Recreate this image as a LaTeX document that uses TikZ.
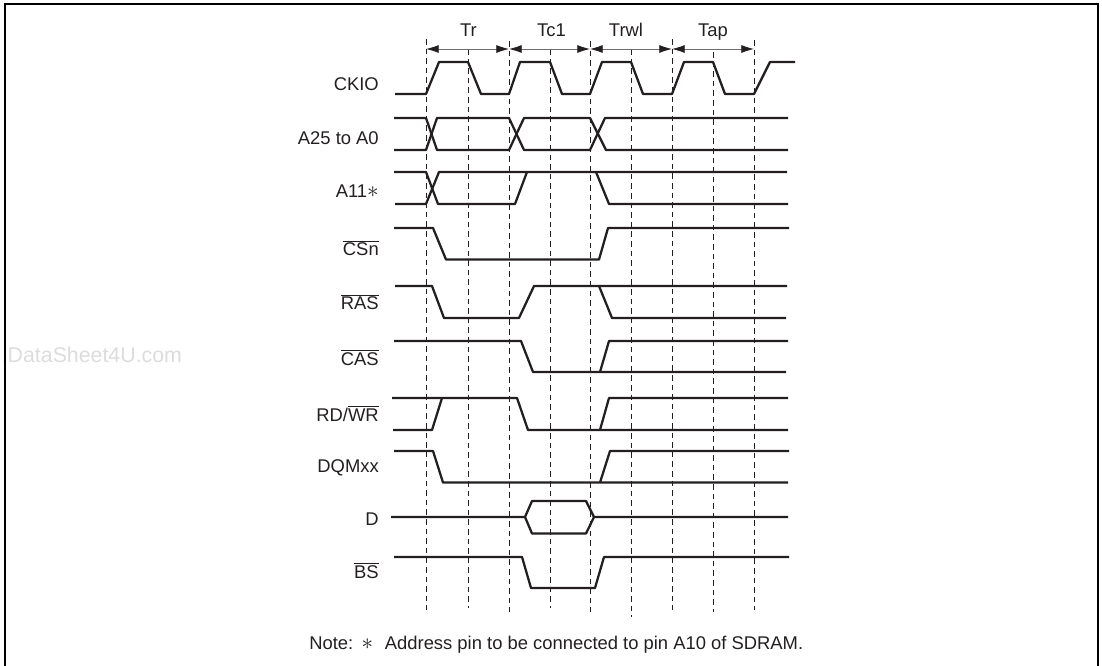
\documentclass[tikz,border=0pt]{standalone}
\usepackage{fontspec}
\setmainfont{Liberation Sans}
\usepackage{xcolor}
\usetikzlibrary{positioning, arrows.meta, calc}
\definecolor{cink}{HTML}{231F20}
\definecolor{cmark}{HTML}{DCDCDC}
\newcommand{\ovl}[1]{$\overline{\hbox{#1}}$}
\newcommand{\strk}{{\fontsize{18}{18}\selectfont$*$}}
\tikzset{
  frm/.style={draw=black, line width=1.8pt},
  sig/.style={draw=cink, line width=1.7pt, line join=round},
  grd/.style={draw=cink, line width=0.65pt, dash pattern=on 4.2pt off 3pt},
  lbl/.style={anchor=base east, text=cink, font=\fontsize{13.8}{16}\selectfont, inner sep=0pt},
  tlb/.style={anchor=base, text=cink, font=\fontsize{13.8}{16}\selectfont, inner sep=0pt},
  per/.style={{Latex[length=9.5pt,width=6pt,color=cink]}-{Latex[length=9.5pt,width=6pt,color=cink]}, draw=cink!65, line width=0.6pt},
}
\begin{document}
\begin{tikzpicture}[x=0.75pt, y=-0.75pt]
  \useasboundingbox (0,0) rectangle (1102,666);
  \node[font=\fontsize{16}{18}\selectfont, text=cmark, anchor=base west, inner sep=0pt] (mark) at (1.5,363) {.DataSheet4U.com};
  \draw[frm] (5.2,666) -- (5.2,4) -- (1098,4) -- (1098,666);
  % ---------- grid ----------
  \foreach \nm/\xx/\ya/\yb in {a/426/39/610, b/468/49/608, c/509/41/612, d/550/49/608, e/590/41/612,
                               f/631/49/617, g/672/39/610, h/713/52/612, i/754/40/610} {
    \coordinate (\nm0) at (\xx,\ya);
    \coordinate (\nm1) at (\xx,\yb);
    \coordinate (\nm2) at (\xx,49);
    \draw[grd] (\nm0) -- (\nm1);
  }
  % ---------- periods ----------
  \draw[per] (a2) -- (c2);
  \draw[per] (c2) -- (e2);
  \draw[per] (e2) -- (g2);
  \draw[per] (g2) -- (i2);
  \node[tlb] (tr) at (468.5,37) {Tr};
  \node[tlb] (tc) at (551.5,37) {Tc1};
  \node[tlb] (trwl) at (626,37) {Trwl};
  \node[tlb] (tap) at (713,37) {Tap};
  % ---------- labels ----------
  \node[lbl] (ckio) at (379,90.5) {CKIO};
  \node[lbl] (addr) at (379,145) {A25 to A0};
  \node[lbl] (a11) at (379,198) {A11\strk};
  \node[lbl] (csn) at (379,256) {\ovl{CSn}};
  \node[lbl] (ras) at (379,310) {\ovl{RAS}};
  \node[lbl] (cas) at (379,365) {\ovl{CAS}};
  \node[lbl] (rdwr) at (379,421) {RD/\ovl{WR}};
  \node[lbl] (dqm) at (379,472) {DQMxx};
  \node[lbl] (dat) at (379,525) {D};
  \node[lbl] (bs) at (379,578) {\ovl{BS}};
  % ---------- signals ----------
  \draw[sig] (395,94) -- (426,94) -- (439,62) -- (468,62) -- (481,94) -- (509,94) -- (520,62) -- (550,62) -- (562,94)
    -- (590,94) -- (602,62) -- (631,62) -- (643,94) -- (672,94) -- (684,62) -- (713,62) -- (725,94) -- (754,94) -- (770,62) -- (795,62);
  % address
  \draw[sig] (394,118) -- (426,118) -- (437,150) -- (509,150) -- (524,118) -- (590,118) -- (606,150) -- (788,150);
  \draw[sig] (394,150) -- (426,150) -- (437,118) -- (509,118) -- (524,150) -- (590,150) -- (605,118) -- (788,118);
  % A11
  \draw[sig] (394,172) -- (426,172) -- (438,204) -- (515,204) -- (527,172);
  \draw[sig] (395,204) -- (426,204) -- (439,172) -- (787,172);
  \draw[sig] (596,172) -- (609,204) -- (788,204);
  % CSn
  \draw[sig] (394,228) -- (433,228) -- (446,259.5) -- (599,259.5) -- (608,228) -- (789,228);
  % RAS
  \draw[sig] (395,286) -- (432,286) -- (444,318) -- (519,318) -- (534,286) -- (787,286);
  \draw[sig] (599,286) -- (612,318) -- (786,318);
  % CAS
  \draw[sig] (394,341) -- (521,341) -- (533,372) -- (786,372);
  \draw[sig] (600,372) -- (609,341) -- (788,341);
  % RD/WR
  \draw[sig] (392,398) -- (517,398) -- (528,430) -- (788,430);
  \draw[sig] (393,430) -- (432,430) -- (442,398);
  \draw[sig] (600,430) -- (609,398) -- (788,398);
  % DQMxx
  \draw[sig] (394,451) -- (433,451) -- (443,482.5) -- (788,482.5);
  \draw[sig] (600,482.5) -- (610,451) -- (789,451);
  % D
  \draw[sig] (391,517) -- (525,517) -- (532,501) -- (586,501) -- (594,517) -- (788,517);
  \draw[sig] (525,517) -- (532,533.5) -- (586,533.5) -- (594,517);
  % BS
  \draw[sig] (394,557) -- (522,557) -- (531,588) -- (595,588) -- (604,557) -- (789,557);
  % ---------- note ----------
  \node[tlb, anchor=base west] (note) at (309,649) {Note:\ \hspace{2.4pt}\strk\ \hspace{1.2pt}\ Address pin to be connected to pin A10 of SDRAM.};
\end{tikzpicture}
\end{document}
